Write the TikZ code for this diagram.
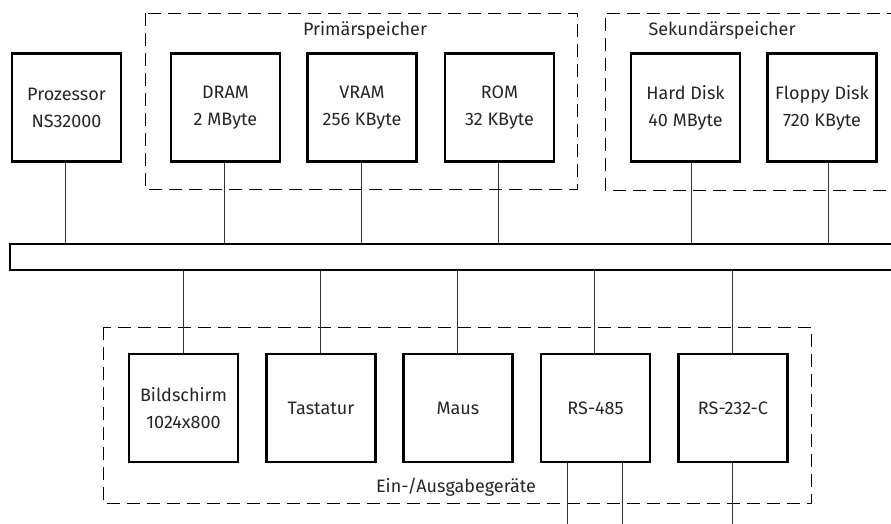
\documentclass[tikz,border=0pt]{standalone}
\usepackage{fontspec}
\setmainfont{Fira Sans}[Scale=1]
\begin{document}
\begin{tikzpicture}[x=1pt,y=-1pt,
  unit/.style={draw, line width=2.4pt, minimum width=109pt, minimum height=108pt, inner sep=0pt, align=center, font=\fontsize{18}{27}\selectfont, text=black!85},
  busbar/.style={draw, line width=2.4pt, minimum width=890pt, minimum height=26pt, inner sep=0pt},
  group/.style={draw, line width=0.9pt, dash pattern=on 13pt off 7pt},
  grouplabel/.style={font=\fontsize{18}{20}\selectfont, text=black!85},
  wire/.style={line width=0.9pt, draw=black!80}]
\useasboundingbox (0,0) rectangle (891,524);
\fill[white] (0,0) rectangle (891,524);
% groups
\draw[group] (145,13) rectangle (577,189);
\draw[group] (920,13) -- (605,13) -- (605,190) -- (920,190);
\draw[group] (103,327) rectangle (811,503);
\node[grouplabel] (lprim) at (365,30) {Primärspeicher};
\node[grouplabel] (lsek) at (722,30) {Sekundärspeicher};
\node[grouplabel] (lea) at (456,487) {Ein-/Ausgabegeräte};
% top units
\node[unit] (cpu) at (66.5,107.5) {Prozessor\\NS32000};
\node[unit] (dram) at (225.5,107.5) {DRAM\\2 MByte};
\node[unit] (vram) at (362,107.5) {VRAM\\256 KByte};
\node[unit] (rom) at (499.5,107.5) {ROM\\32 KByte};
\node[unit] (hd) at (685.5,107.5) {Hard Disk\\40 MByte};
\node[unit] (fd) at (822,107.5) {Floppy Disk\\720 KByte};
% bus
\node[busbar] (bus) at (455,257) {};
% bottom units
\node[unit] (bild) at (183.5,408) {Bildschirm\\1024x800};
\node[unit] (tast) at (321,408) {Tastatur};
\node[unit] (maus) at (458,408) {Maus};
\node[unit] (rs485) at (595.5,408) {RS-485};
\node[unit] (rs232) at (733,408) {RS-232-C};
% wires top
\draw[wire] (cpu.south -| 65,0) -- (bus.north -| 65,0);
\draw[wire] (dram.south -| 224,0) -- (bus.north -| 224,0);
\draw[wire] (vram.south -| 361,0) -- (bus.north -| 361,0);
\draw[wire] (rom.south -| 498,0) -- (bus.north -| 498,0);
\draw[wire] (hd.south -| 691,0) -- (bus.north -| 691,0);
\draw[wire] (fd.south -| 828,0) -- (bus.north -| 828,0);
% wires bottom
\draw[wire] (bus.south -| 183,0) -- (bild.north -| 183,0);
\draw[wire] (bus.south -| 320,0) -- (tast.north -| 320,0);
\draw[wire] (bus.south -| 457,0) -- (maus.north -| 457,0);
\draw[wire] (bus.south -| 594,0) -- (rs485.north -| 594,0);
\draw[wire] (bus.south -| 732,0) -- (rs232.north -| 732,0);
% outgoing lines
\coordinate (o1) at (567,530);
\coordinate (o2) at (622,530);
\coordinate (o3) at (732,530);
\draw[wire] (rs485.south -| o1) -- (o1);
\draw[wire] (rs485.south -| o2) -- (o2);
\draw[wire] (rs232.south -| o3) -- (o3);
\end{tikzpicture}
\end{document}
